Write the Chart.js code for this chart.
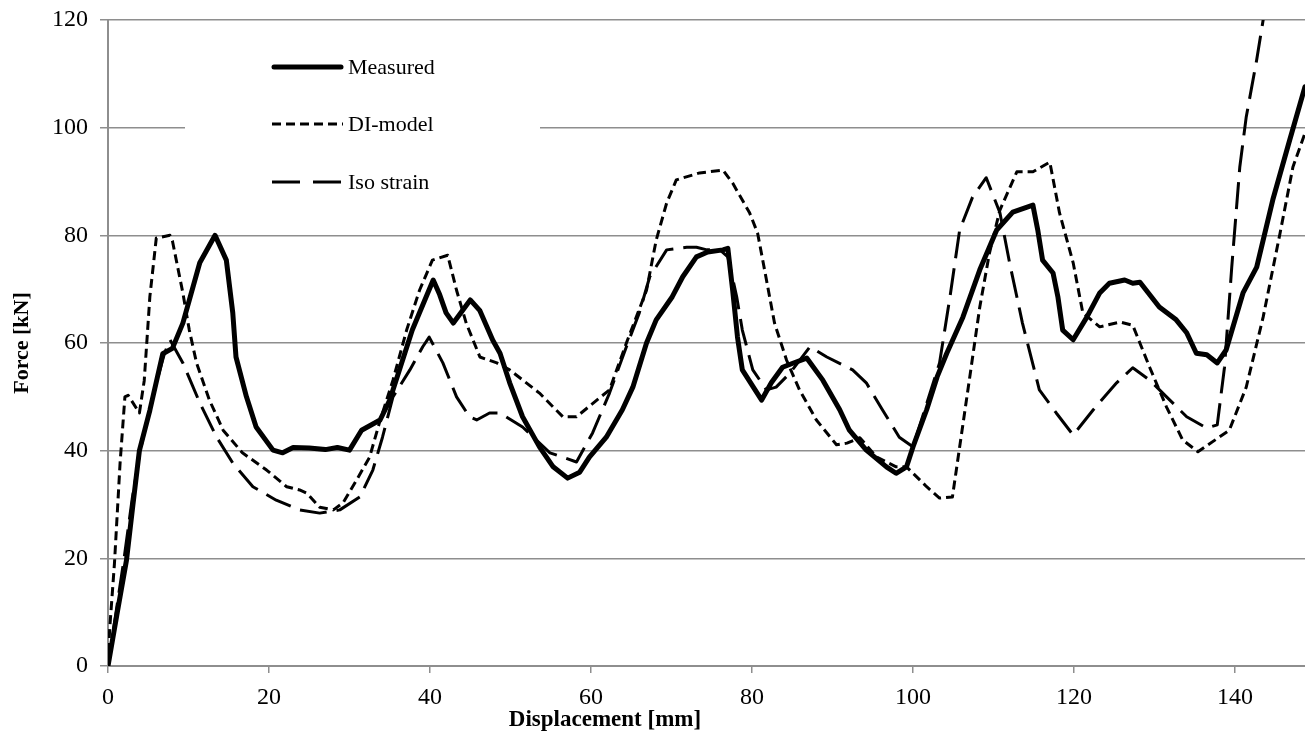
<!DOCTYPE html>
<html>
<head>
<meta charset="utf-8">
<script src="https://cdn.jsdelivr.net/npm/chart.js@4/dist/chart.umd.min.js"></script>
<style>
  html, body { margin: 0; padding: 0; background: #fff; }
  #wrap { width: 1305px; height: 750px; }
</style>
</head>
<body>
<div id="wrap"><canvas id="chart" width="1305" height="750"></canvas></div>
<script>
// force-displacement curves, displacement in mm, force in kN
var measuredX = [0, 1.1, 2.3, 3.1, 3.9, 5.2, 6.8, 8.0, 9.3, 11.4, 13.3, 14.7, 15.5, 15.9, 17.2, 18.4, 20.5, 21.7, 23, 25, 27, 28.5, 30, 31.5, 33.8, 35, 36.2, 37.8, 40.4, 41.2, 42, 42.9, 45, 46.2, 47.8, 48.7, 49.9, 51.5, 53.6, 55.3, 57.1, 58.6, 59.8, 61.9, 63.9, 65.2, 66.9, 68.1, 70.1, 71.4, 73.1, 74.5, 76.4, 77, 77.6, 78.2, 78.8, 81.2, 82.4, 83.8, 85, 86.8, 88.8, 90.9, 92.1, 94.2, 96.7, 97.9, 99.2, 100, 101.7, 103, 104.2, 106.2, 108.3, 110.4, 112.4, 114.9, 115.5, 116.1, 117.4, 118, 118.6, 119.9, 121.6, 123.2, 124.4, 126.3, 127.3, 128.2, 130.6, 132.7, 134, 135.2, 136.5, 137.8, 138.9, 141, 142.7, 144.7, 146.8, 148.7];
var measuredY = [0, 9.5, 19.7, 30, 40, 47.5, 58, 59, 63.7, 74.9, 80, 75.4, 65.6, 57.4, 50, 44.4, 40.1, 39.6, 40.6, 40.5, 40.2, 40.6, 40.1, 43.8, 45.7, 49.4, 55, 62.4, 71.7, 69, 65.6, 63.7, 68, 66, 60.5, 58.1, 52.6, 46.3, 40.7, 37, 34.9, 36, 38.8, 42.5, 47.6, 51.8, 60, 64.3, 68.6, 72.3, 76, 76.9, 77.3, 77.6, 69.8, 61.1, 55, 49.4, 52.6, 55.5, 56.2, 57.2, 53.1, 47.6, 43.8, 40.1, 37, 35.8, 37, 40.7, 47.6, 53.7, 58.1, 64.8, 73.6, 81, 84.3, 85.6, 81, 75.4, 73, 68.6, 62.4, 60.6, 64.8, 69.3, 71.1, 71.7, 71.1, 71.3, 66.7, 64.3, 61.9, 58.1, 57.8, 56.3, 58.7, 69.3, 74.1, 86.6, 97.7, 107.6];

var diModelX = [0, 0.2, 0.8, 1.5, 2.1, 2.5, 3.9, 4.5, 5.2, 6.0, 7.7, 8.0, 9.3, 10.1, 11.0, 12.6, 14.3, 16.7, 19.7, 22.2, 23.8, 24.7, 26.3, 28.0, 29.2, 30.9, 32.5, 33.7, 35.4, 37.1, 38.7, 40.3, 42.2, 43.3, 44.5, 46.2, 48.3, 49.9, 53.6, 56.5, 58.2, 62.3, 64.4, 66.9, 68.1, 69.4, 70.6, 73.5, 76.4, 77.6, 79.7, 80.7, 81.8, 82.8, 84.3, 85.9, 88.0, 90.5, 91.8, 93.4, 95.5, 97.9, 99.2, 101.7, 103.3, 104.9, 105.8, 107.0, 108.3, 109.5, 110.8, 112.9, 114.9, 117.0, 118.2, 119.9, 121.1, 123.2, 125.7, 127.3, 129.4, 131.5, 133.5, 135.4, 139.3, 141.4, 143.5, 145.6, 147.2, 148.7];
var diModelY = [0, 6.7, 19, 37.7, 50, 50.3, 47, 53, 68.6, 79.5, 80, 79, 69.3, 62.4, 56.3, 49.4, 43.8, 39.6, 36.4, 33.3, 32.7, 32.1, 29.5, 29, 30.3, 34.6, 38.8, 45.1, 53.1, 62.4, 69.8, 75.4, 76.3, 69.8, 63.7, 57.4, 56.3, 55, 50.7, 46.3, 46.3, 51.3, 60, 69.8, 79.1, 86, 90.3, 91.6, 92.1, 89.7, 84.2, 80.4, 71.7, 63.7, 56.8, 51.3, 45.7, 41.1, 41.4, 42.4, 38.8, 37, 37, 33.3, 31.2, 31.4, 40.7, 53.1, 66.7, 76.7, 84.7, 91.8, 91.8, 93.6, 84.2, 74.9, 65.6, 63, 63.9, 63.3, 55.5, 48.1, 42, 39.8, 43.8, 51.8, 64.8, 80.4, 92.7, 99];

var isoStrainX = [0, 1, 2, 3, 4, 5, 6, 7, 7.7, 9.3, 11.4, 13.5, 15.5, 18, 20.9, 23.8, 26.3, 28.8, 31.3, 32.9, 34.1, 35.4, 37.5, 39.1, 39.9, 41.6, 43.3, 44.9, 45.8, 47.4, 48.7, 51.5, 54.9, 58.2, 60.2, 62.3, 64.4, 66, 67.3, 69.4, 71.9, 73.1, 74.4, 76, 77, 78.1, 78.8, 80.1, 81.8, 83, 84.7, 87.2, 89.3, 92.5, 94.2, 96.2, 98.3, 100, 103.3, 104.6, 105.8, 107.4, 109.1, 110.8, 112, 113.6, 115.7, 117.8, 119.9, 122.4, 125.3, 127.3, 129.4, 131.5, 134, 136.5, 137.8, 138.7, 139.6, 140.6, 141.4, 142.7, 143.5, 144.3];
var isoStrainY = [0, 10, 20, 31, 40, 46.5, 52.5, 58, 60.6, 56.3, 48.9, 42.5, 37.7, 33.3, 30.8, 29, 28.4, 29, 31.4, 36.4, 42.5, 50, 55, 59.3, 61.1, 56.3, 50, 46.3, 45.7, 47, 47, 44.4, 39.6, 37.9, 43.3, 50.7, 59.3, 65.6, 72.3, 77.3, 77.8, 77.8, 77.3, 77.3, 76, 68.6, 62.4, 55, 51.3, 51.8, 54.4, 59.3, 57.4, 55, 52.6, 47.6, 42.5, 40.7, 56.3, 68.6, 81, 87.1, 90.7, 84.2, 74.9, 63.7, 51.3, 47, 42.9, 47.6, 52.6, 55.4, 53.1, 50, 46.3, 44.2, 44.8, 55.5, 74.1, 92.7, 102, 112.6, 120, 128];

var seriesNames = ['Measured', 'DI-model', 'Iso strain'];
var xTicks = [0, 20, 40, 60, 80, 100, 120, 140];
var yTicks = [0, 20, 40, 60, 80, 100, 120];

var serif = "'Liberation Serif', 'Times New Roman', serif";
var gridColor = '#8e8e8e';

var toPoints = function (xs, ys) {
  return xs.map(function (x, i) { return { x: x, y: ys[i] }; });
};

var lineStyles = [
  { width: 5, dash: [], cap: 'round' },
  { width: 3, dash: [9, 5], cap: 'butt' },
  { width: 3, dash: [27, 10], cap: 'butt' }
];

// legend box sitting inside the plot, plus the x axis title
var overlay = {
  id: 'overlay',
  beforeDatasetsDraw: function (chart) {
    var ctx = chart.ctx;
    ctx.save();
    ctx.fillStyle = '#fff';
    ctx.fillRect(185, 38, 355, 175);
    ctx.restore();
  },
  afterDraw: function (chart) {
    var ctx = chart.ctx;
    ctx.save();
    var rows = [67, 124, 182];
    seriesNames.forEach(function (name, i) {
      var st = lineStyles[i];
      ctx.beginPath();
      ctx.strokeStyle = '#000';
      ctx.lineWidth = st.width;
      ctx.lineCap = st.cap;
      ctx.setLineDash(i === 2 ? [28, 13] : st.dash);
      ctx.moveTo(i === 0 ? 274 : 272, rows[i]);
      ctx.lineTo(i === 0 ? 341 : 343, rows[i]);
      ctx.stroke();
      ctx.setLineDash([]);
      ctx.fillStyle = '#000';
      ctx.font = '22px ' + serif;
      ctx.textBaseline = 'middle';
      ctx.textAlign = 'left';
      ctx.fillText(name, 348, rows[i] + 1);
    });
    ctx.font = 'bold 23px ' + serif;
    ctx.textAlign = 'center';
    ctx.textBaseline = 'middle';
    ctx.fillText('Displacement [mm]', 605, 720);
    ctx.restore();
  }
};

var datasets = [
  toPoints(measuredX, measuredY),
  toPoints(diModelX, diModelY),
  toPoints(isoStrainX, isoStrainY)
].map(function (pts, i) {
  return {
    label: seriesNames[i],
    data: pts,
    borderColor: '#000',
    borderWidth: lineStyles[i].width,
    borderDash: lineStyles[i].dash,
    borderCapStyle: lineStyles[i].cap,
    borderJoinStyle: 'round',
    pointRadius: 0,
    tension: 0,
    fill: false
  };
});

var config = {
  type: 'line',
  data: { datasets: datasets },
  plugins: [overlay],
  options: {
    responsive: false,
    animation: false,
    layout: { padding: { top: 20, right: 0, left: 0, bottom: 0 } },
    plugins: {
      legend: { display: false },
      tooltip: { enabled: false }
    },
    scales: {
      x: {
        type: 'linear',
        min: 0,
        max: 148.7,
        afterFit: function (scale) {
          scale.height = 84;
          scale.paddingLeft = 0;
          scale.paddingRight = 0;
        },
        afterBuildTicks: function (scale) {
          scale.ticks = xTicks.map(function (v) { return { value: v }; });
        },
        grid: {
          drawOnChartArea: false,
          drawTicks: true,
          tickLength: 7,
          color: gridColor,
          lineWidth: 1.5
        },
        border: { color: gridColor, width: 2 },
        ticks: {
          color: '#000',
          padding: 10,
          maxRotation: 0,
          font: { family: serif, size: 24 }
        }
      },
      y: {
        min: 0,
        max: 120,
        afterFit: function (scale) {
          scale.width = 108;
          scale.paddingTop = 0;
          scale.paddingBottom = 0;
        },
        afterBuildTicks: function (scale) {
          scale.ticks = yTicks.map(function (v) { return { value: v }; });
        },
        grid: {
          color: gridColor,
          lineWidth: 1.5,
          drawTicks: true,
          tickLength: 8
        },
        border: { color: gridColor, width: 2 },
        ticks: {
          color: '#000',
          padding: 12,
          font: { family: serif, size: 24 }
        },
        title: {
          display: true,
          text: 'Force [kN]',
          color: '#000',
          padding: { top: 9, bottom: 0 },
          font: { family: serif, size: 22, weight: 'bold' }
        }
      }
    }
  }
};

var ctx = document.getElementById('chart').getContext('2d');
var chart = new Chart(ctx, config);
</script>
</body>
</html>
